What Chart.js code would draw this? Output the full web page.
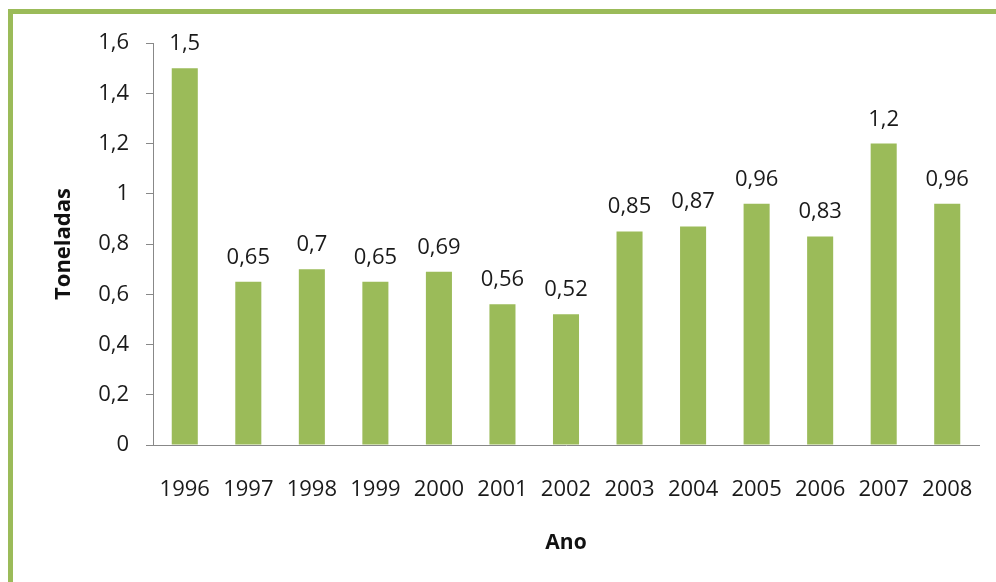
<!DOCTYPE html>
<html>
<head>
<meta charset="utf-8">
<script src="https://cdn.jsdelivr.net/npm/chart.js@4.4.0/dist/chart.umd.min.js"></script>
<style>
  body { margin: 0; background: #fff; }
  #wrap { position: relative; width: 996px; height: 582px; }
  #frame { position: absolute; left: 8px; top: 9px; right: 0; bottom: -10px; border-top: 5px solid #9bbb59; border-left: 5px solid #9bbb59; }
  canvas { position: absolute; left: 0; top: 0; }
</style>
</head>
<body>
<div id="wrap">
  <div id="frame"></div>
  <canvas id="bar-chart" width="996" height="582"></canvas>
</div>
<script>
const years = ["1996", "1997", "1998", "1999", "2000", "2001", "2002", "2003", "2004", "2005", "2006", "2007", "2008"];
const toneladas = [1.5, 0.65, 0.7, 0.65, 0.69, 0.56, 0.52, 0.85, 0.87, 0.96, 0.83, 1.2, 0.96];

const comma = v => String(v).replace(".", ",");

// labels over the bars
const barLabels = {
    id: "barLabels",
    afterDatasetsDraw(chart) {
        const c = chart.ctx;
        c.save();
        c.font = "22px 'Open Sans'";
        c.fillStyle = "#1a1a1a";
        c.textAlign = "center";
        c.textBaseline = "alphabetic";
        chart.getDatasetMeta(0).data.forEach((bar, i) => {
            c.fillText(comma(toneladas[i]), bar.x, bar.y - 18);
        });
        c.restore();
    }
};

const ctx = document.getElementById("bar-chart");

let chartGraph = new Chart(ctx, {
    type: "bar",
    data: {
        labels: years,
        datasets: [{
            data: toneladas,
            backgroundColor: "#9bbb59",
            categoryPercentage: 1,
            barPercentage: 0.41,
        }]
    },
    options: {
        responsive: false,
        animation: false,
        layout: { padding: { left: 48, right: 17, top: 43, bottom: 14 } },
        plugins: {
            legend: { display: false },
            tooltip: { enabled: false },
        },
        scales: {
            x: {
                grid: { display: true, drawOnChartArea: false, drawTicks: false, color: "#888" },
                border: { color: "#888" },
                ticks: { color: "#1a1a1a", font: { family: "Open Sans", size: 22 }, padding: 32, maxRotation: 0 },
                title: { display: true, text: "Ano", color: "#111", font: { family: "Open Sans", size: 21, weight: "bold" }, padding: { top: 4, bottom: 12 } },
                afterFit: s => { s.height = 582 - 445 - 14; s.paddingLeft = 0; s.paddingRight = 0; },
            },
            y: {
                min: 0,
                max: 1.6,
                grid: { drawOnChartArea: false, tickLength: 7, color: "#888" },
                border: { color: "#888" },
                ticks: { stepSize: 0.2, color: "#1a1a1a", padding: 17, font: { family: "Open Sans", size: 22 }, callback: v => comma(Math.round(v * 10) / 10) },
                title: { display: true, text: "Toneladas", color: "#111", font: { family: "Open Sans", size: 22, weight: "bold" }, padding: { top: 3, bottom: 0 } },
                afterFit: s => { s.width = 153 - 48; },
            }
        }
    },
    plugins: [barLabels]
});
</script>
</body>
</html>
